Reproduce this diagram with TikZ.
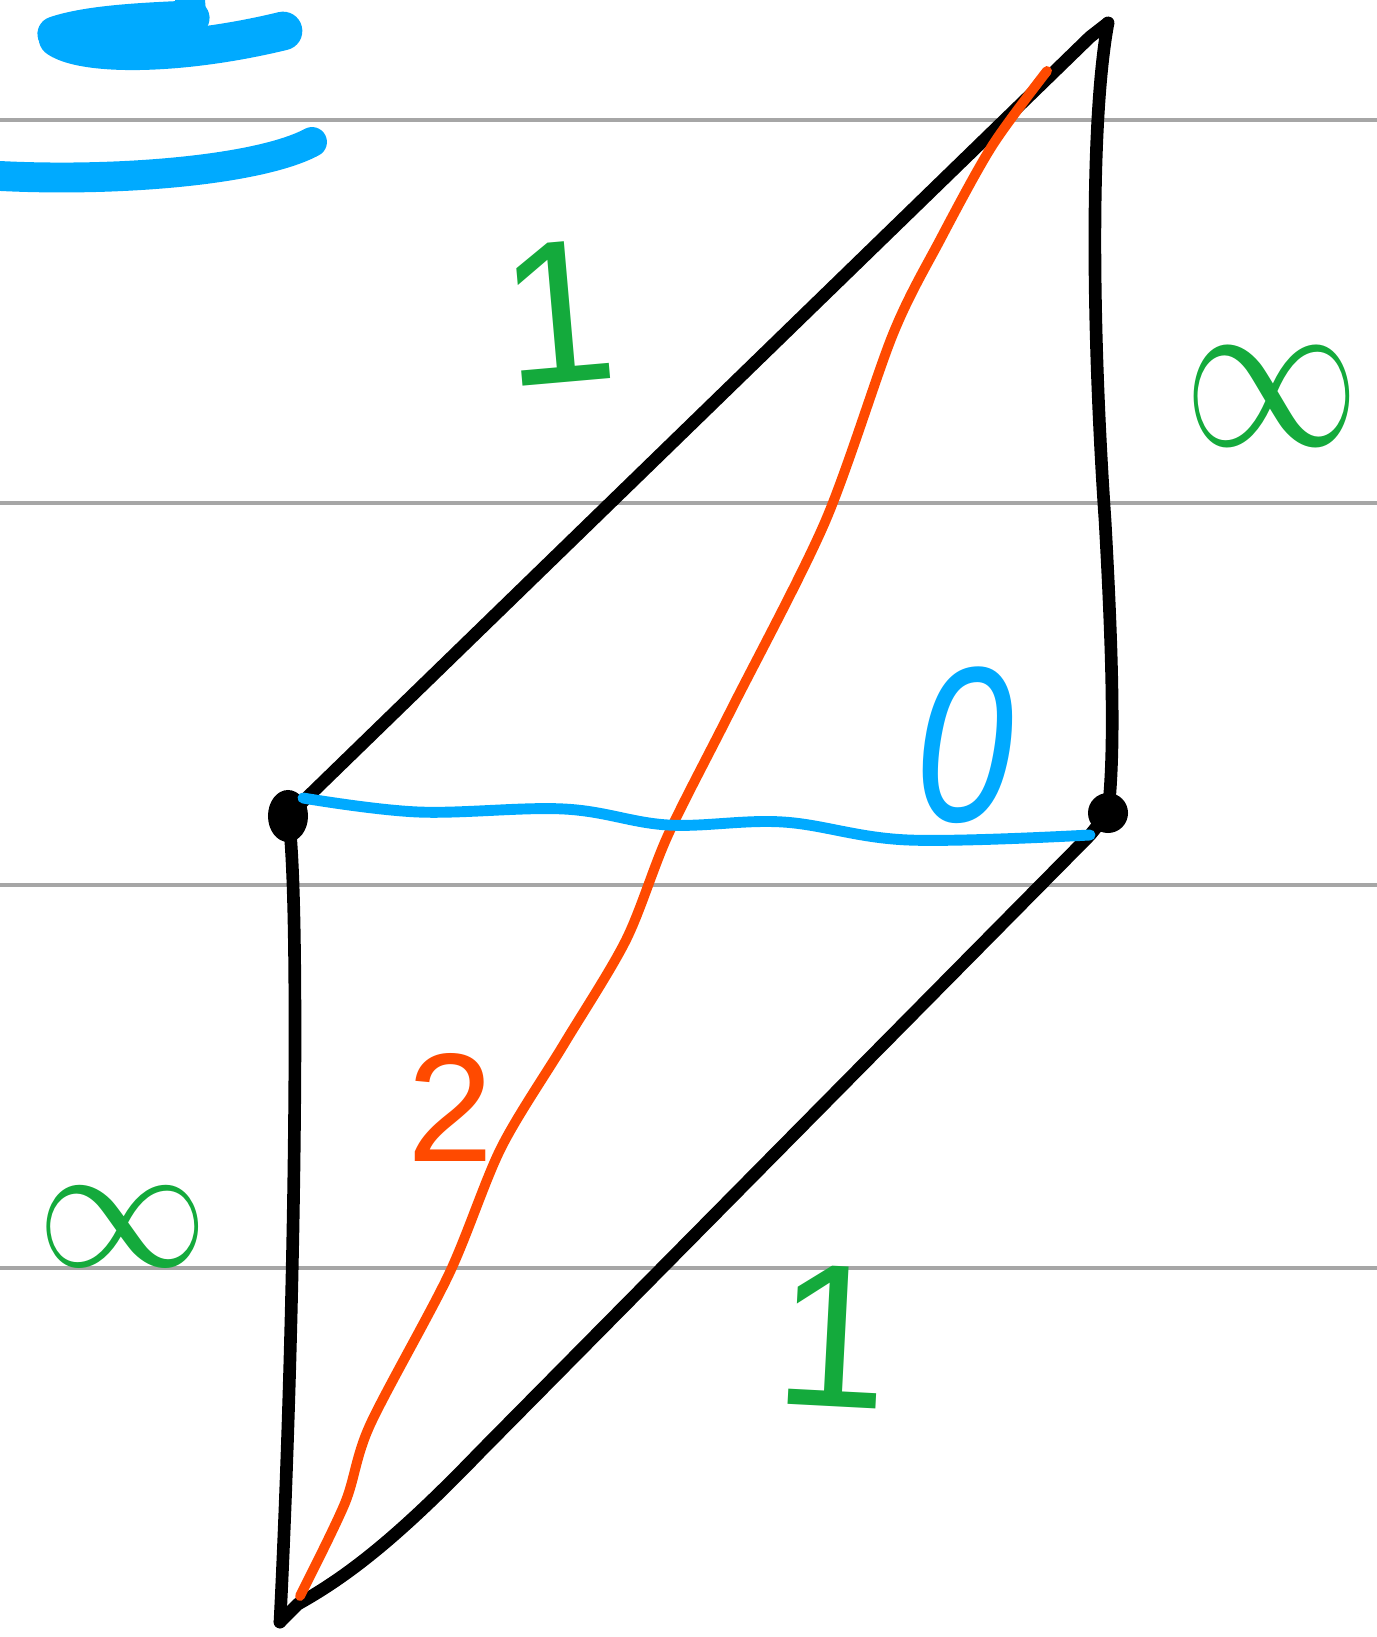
\documentclass[tikz,border=0pt]{standalone}
\usepackage{fontspec}
\setmainfont{Liberation Sans}
\usetikzlibrary{positioning}
\definecolor{PenBlue}{HTML}{00AAFF}
\definecolor{PenOrange}{HTML}{FF4A00}
\definecolor{PenGreen}{HTML}{14AA3C}
\definecolor{RuleGray}{HTML}{A6A6A6}

\begin{document}
\begin{tikzpicture}[x=0.01cm, y=-0.01cm, line cap=round, line join=round,
    rule/.style={RuleGray, line width=0.9pt},
    edge/.style={black, line width=3.6pt},
    diag/.style={PenOrange, line width=2.8pt},
    cut/.style={PenBlue, line width=3.1pt},
    ink/.style={PenBlue, line width=8.5pt},
    lbl/.style={inner sep=0pt, text=PenGreen}]
    \useasboundingbox (0,0) rectangle (1377,1637);
    % ruled paper
    \foreach \y in {120,503,885,1268}
        \draw[rule] (0,\y) -- (1377,\y);
    % blue strokes, top left
    \draw[ink] (190,0) -- (192,24);
    \draw[ink, line width=10pt] (55,34) .. controls (90,22) and (150,20) .. (192,18);
    \draw[ink, line width=11pt] (58,38) .. controls (85,56) and (180,56) .. (283,31);
    \draw[ink] (0,176) .. controls (120,182) and (260,170) .. (312,142);
    % corners
    \coordinate (T) at (1108,23);
    \coordinate (Tk) at (1090,37);
    \coordinate (L) at (288,816);
    \coordinate (R) at (1108,813);
    \coordinate (B) at (280,1622);
    \coordinate (Bk) at (298,1604);
    \coordinate (Otop) at (1047,71);
    \coordinate (Obot) at (300,1596);
    \coordinate (Cl) at (303,798);
    \coordinate (Cr) at (1090,835);
    % outline
    \draw[edge] (L) -- (Tk) -- (T);
    \draw[edge] (T) .. controls (1090,120) and (1092,330) .. (1105,520)
        .. controls (1114,680) and (1114,760) .. (R);
    \draw[edge] (R) -- (Cr) -- (480,1452)
        .. controls (400,1535) and (350,1575) .. (Bk) -- (B);
    \draw[edge] (L) .. controls (300,880) and (296,1300) .. (B);
    \fill (L) ellipse [x radius=0.2cm, y radius=0.26cm];
    \fill (R) circle [radius=0.2cm];
    % diagonals
    \draw[diag] plot[smooth, tension=0.5] coordinates {(Otop) (992,146) (940,240)
        (893,334) (825,522) (731,710) (668,835) (626,940) (564,1044) (501,1148)
        (449,1274) (370,1425) (345,1503) (Obot)};
    \draw[cut] plot[smooth, tension=0.6] coordinates {(Cl) (418,812) (564,809)
        (668,825) (783,822) (908,840) (Cr)};
    % labels
    \node[lbl, rotate=5, font=\fontsize{58}{58}\selectfont] (oneA) at (558,313) {1};
    \node[lbl, rotate=-3, font=\fontsize{58}{58}\selectfont] (oneB) at (833,1336) {1};
    \node[lbl, font=\Huge, xscale=2.0, yscale=2.6] (infR) at (1272,397) {$\infty$};
    \node[lbl, font=\Huge, xscale=1.95, yscale=2.1] (infL) at (123,1227) {$\infty$};
    \node[lbl, text=PenOrange, font=\fontsize{44}{44}\selectfont] (two) at (451,1107) {2};
    \node[lbl, text=PenBlue, xscale=0.8, font=\fontsize{63}{63}\itshape] (zero) at (965,745) {0};
\end{tikzpicture}
\end{document}
